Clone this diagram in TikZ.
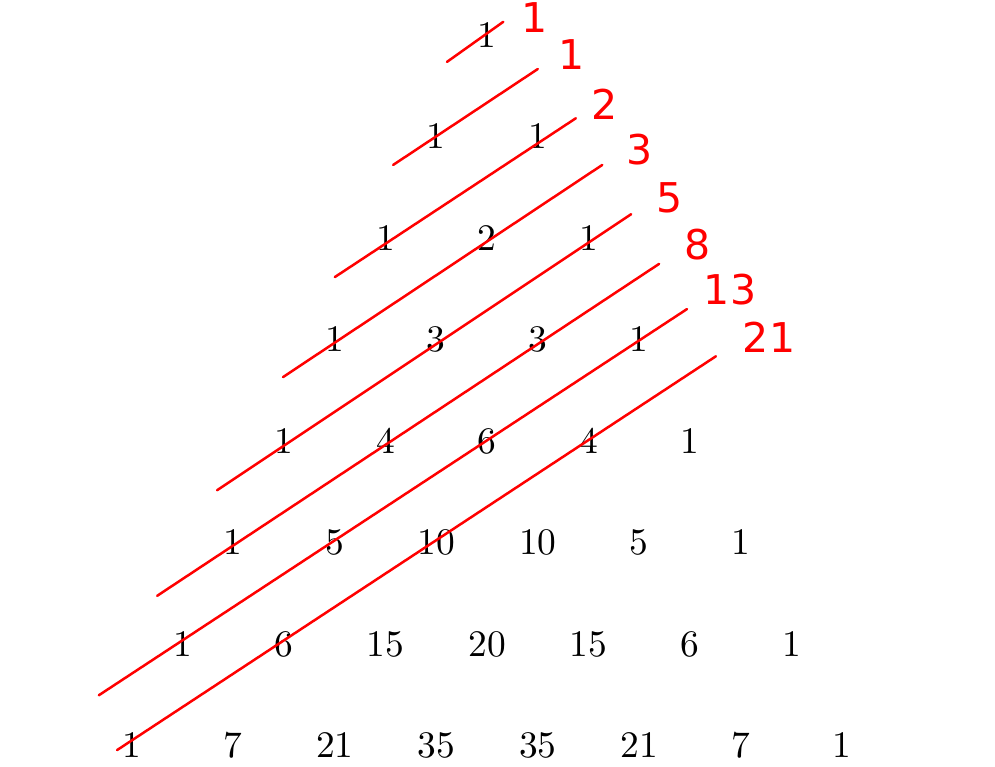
\documentclass[tikz,border=0pt]{standalone}
\usepackage{fontspec}
\newfontfamily\fiblabelfont{DejaVu Sans}
\newfontfamily\entryfont{lmroman10-regular.otf}
\usetikzlibrary{calc}

\tikzset{
  entry/.style={font=\entryfont\fontsize{21}{26}\selectfont, inner sep=0pt},
  fibline/.style={draw=red, line width=1.4pt, line cap=round},
  fiblabel/.style={text=red, font=\fiblabelfont\fontsize{23}{28}\selectfont, inner sep=0pt}
}

\begin{document}
\begin{tikzpicture}

\useasboundingbox (-9.597,-14.404) rectangle (10.009,0.690);

% Pascal rows, row n at y=-2n
\foreach \n/\vals in {0/{1}, 1/{1,1}, 2/{1,2,1}, 3/{1,3,3,1}, 4/{1,4,6,4,1},
  5/{1,5,10,10,5,1}, 6/{1,6,15,20,15,6,1}, 7/{1,7,21,35,35,21,7,1}}
{
  \foreach \v [count=\k from 0] in \vals
  {
    \node[entry] (p-\n-\k) at ({2*\k-\n},{-2*\n}) {\v};
  }
}

% Shallow diagonals (red lines)
\foreach \sx/\sy/\ex/\ey in {-0.79/-0.53/0.32/0.26, -1.85/-2.56/1.00/-0.67,
  -3.00/-4.77/1.75/-1.64, -4.02/-6.74/2.27/-2.56, -5.32/-8.97/2.84/-3.53,
  -6.50/-11.05/3.39/-4.51, -7.65/-13.01/3.94/-5.40, -7.29/-14.09/4.51/-6.33}
{
    \draw[fibline] (\sx,\sy) -- (\ex,\ey);
}

% Diagonal sums
\foreach \f/\lx/\ly in {1/0.945/0.335, 1/1.674/-0.394, 2/2.325/-1.360, 3/3.014/-2.266,
  5/3.605/-3.212, 8/4.157/-4.138, 13/4.788/-5.025, 21/5.556/-5.951}
{
    \node[fiblabel] at (\lx,\ly) {\f};
}

\end{tikzpicture}
\end{document}
